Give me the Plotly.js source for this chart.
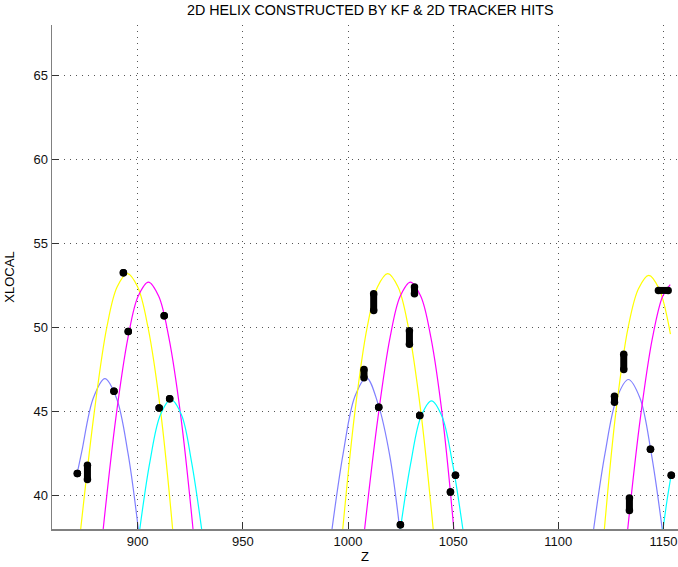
<!DOCTYPE html>
<html>
<head>
<meta charset="utf-8">
<script src="https://cdn.plot.ly/plotly-3.0.1.min.js"></script>
<style>
  html, body { margin: 0; padding: 0; background: #fff; }
  #chart { width: 678px; height: 567px; }
</style>
</head>
<body>
<div id="chart"></div>
<script>
// Helix arcs fitted by the Kalman filter (Z vs XLOCAL), one array pair per colour,
// arcs separated by null.
const yellowZ = [872.9, 879.4, 885.3, 890.2, 895.1, 900.0, 904.9, 910.9, 916.6, null,
                 997.5, 1003.3, 1009.1, 1014.0, 1018.9, 1023.8, 1028.7, 1034.6, 1040.5, null,
                 1121.9, 1127.4, 1133.2, 1138.1, 1143.0, 1147.9, 1153.3];
const yellowX = [38, 45, 50, 52.4, 53.2, 52.4, 50, 45, 38, null,
                 38, 45, 50, 52.4, 53.2, 52.4, 50, 45, 38, null,
                 38, 45, 50, 52.3, 53.1, 52.3, 49.6];

const magentaZ = [883.6, 889.6, 895.4, 900.2, 905.1, 910.0, 914.8, 920.6, 926.3, null,
                  1007.9, 1014.2, 1020.0, 1024.8, 1029.7, 1034.6, 1039.4, 1045.0, 1050.3, null,
                  1133.0, 1139.0, 1144.8, 1149.6, 1153.2];
const magentaX = [38, 44.6, 49.4, 51.85, 52.7, 51.85, 49.4, 44.6, 38, null,
                  38, 44.6, 49.4, 51.85, 52.7, 51.85, 49.4, 44.6, 38, null,
                  38, 44.6, 49.4, 51.85, 52.55];

const blueZ = [871.3, 873.4, 878.9, 884.4, 889.9, 895.4, 900.3, null,
               992.4, 997.7, 1003.3, 1008.8, 1014.4, 1019.8, 1024.6, null,
               1116.8, 1122.2, 1127.8, 1133.3, 1138.8, 1144.2, 1149.4];
const blueX = [41.35, 42.6, 45.8, 46.95, 45.8, 42.5, 38, null,
               38, 42.5, 45.9, 47.0, 45.4, 42.4, 38, null,
               38, 42.5, 45.8, 46.9, 45.8, 42.5, 38];

const cyanZ = [901.0, 905.8, 910.8, 915.8, 920.8, 925.6, 930.4, null,
               1024.9, 1029.8, 1034.7, 1039.7, 1044.7, 1049.7, 1054.6, null,
               1149.8, 1151.8, 1153.7];
const cyanX = [38, 42.0, 44.8, 45.7, 44.8, 42.0, 38, null,
               38, 41.9, 44.7, 45.63, 44.7, 41.9, 38, null,
               38, 39.8, 41.25];

// 2D tracker hits: each hit spans (hitZ1, hitX1) .. (hitZ2, hitX2)
const hitZ1 = [871.3, 876.1, 893.2, 895.5, 888.7, 912.6, 910.2, 915.2,
               1012.2, 1031.6, 1029.2, 1007.6, 1014.6, 1034.1, 1024.9, 1048.7, 1051.1,
               1131.1, 1126.7, 1147.6, 1143.8, 1133.8, 1153.7];
const hitZ2 = [871.3, 876.1, 893.2, 895.5, 888.7, 912.6, 910.2, 915.2,
               1012.2, 1031.6, 1029.2, 1007.6, 1014.6, 1034.1, 1024.9, 1048.7, 1051.1,
               1131.1, 1126.7, 1152.2, 1143.8, 1133.8, 1153.7];
const hitX1 = [41.3, 40.95, 53.25, 49.75, 46.2, 50.7, 45.2, 45.75,
               51.0, 52.0, 49.0, 47.0, 45.25, 44.75, 38.25, 40.2, 41.2,
               47.5, 45.55, 52.2, 42.75, 39.1, 41.2];
const hitX2 = [41.3, 41.8, 53.25, 49.75, 46.2, 50.7, 45.2, 45.75,
               52.0, 52.4, 49.8, 47.5, 45.25, 44.75, 38.25, 40.2, 41.2,
               48.4, 45.9, 52.2, 42.75, 39.85, 41.2];

const hz = [], hx = [];
for (let i = 0; i < hitZ1.length; i++) {
  hz.push(hitZ1[i], hitZ2[i], null);
  hx.push(hitX1[i], hitX2[i], null);
}

function arc(z, x, color) {
  return {
    x: z, y: x, type: 'scatter', mode: 'lines',
    line: { color: color, width: 1.2, shape: 'spline', smoothing: 1 },
    connectgaps: false, hoverinfo: 'skip'
  };
}

const traces = [
  arc(blueZ, blueX, '#8080ff'),
  arc(yellowZ, yellowX, '#ffff00'),
  arc(magentaZ, magentaX, '#ff00ff'),
  arc(cyanZ, cyanX, '#00ffff'),
  {
    x: hz, y: hx, type: 'scatter', mode: 'lines+markers',
    line: { color: '#000', width: 7 },
    marker: { color: '#000', size: 7.5, symbol: 'circle' },
    connectgaps: false
  }
];

const FONT = 'Liberation Sans, Arial, Helvetica, sans-serif';

const axisCommon = {
  showline: true, linecolor: '#808080', linewidth: 1.5,
  ticks: 'inside', ticklen: 7, tickwidth: 1, tickcolor: '#333',
  showgrid: true, gridcolor: '#555', gridwidth: 1, griddash: '1px,5px',
  zeroline: false,
  tickfont: { family: FONT, size: 13, color: '#111' }
};

const layout = {
  width: 678, height: 567,
  margin: { l: 52, r: 0, t: 25, b: 38 },
  paper_bgcolor: '#fff', plot_bgcolor: '#fff',
  showlegend: false,
  title: {
    text: '2D HELIX CONSTRUCTED BY KF & 2D TRACKER HITS',
    font: { family: FONT, size: 14.3, color: '#000' },
    x: 0.546, xanchor: 'center', xref: 'container',
    y: 0.982, yanchor: 'middle', yref: 'container'
  },
  xaxis: Object.assign({}, axisCommon, {
    range: [859.25, 1156.9], tick0: 900, dtick: 50,
    title: { text: 'Z', font: { family: FONT, size: 13, color: '#000' }, standoff: 4 }
  }),
  yaxis: Object.assign({}, axisCommon, {
    range: [38, 68], tick0: 40, dtick: 5,
    title: { text: 'XLOCAL', font: { family: FONT, size: 13, color: '#000' }, standoff: 16 }
  })
};

Plotly.newPlot('chart', traces, layout, { displayModeBar: false, staticPlot: true });
</script>
</body>
</html>
